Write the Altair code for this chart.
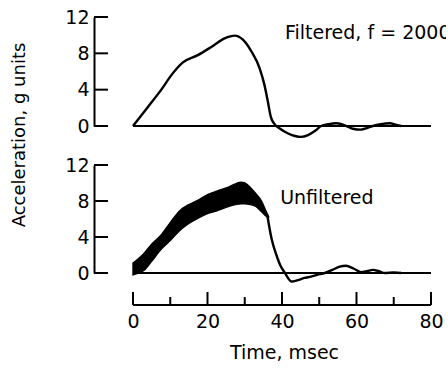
import altair as alt
import pandas as pd

# ---- data ----
t_filt = [0, 4.0, 7.6, 10.3, 13.4, 17.4, 21.0, 24.6, 27.3, 29.5, 31.8, 34.0, 35.3, 36.2, 37.0, 38.0,
          39.5, 41.5, 43.5, 45.1, 47.0, 49.0, 50.5, 52.5, 54.5, 56.0, 57.2, 59.0, 61.2, 63.0, 64.4,
          66.5, 69.0, 70.5, 72.0]
v_filt = [0, 2.1, 4.0, 5.6, 7.0, 7.8, 8.7, 9.65, 9.95, 9.5, 8.2, 6.35, 4.5, 2.7, 1.0, 0.2,
          -0.3, -0.8, -1.1, -1.2, -1.0, -0.5, 0, 0.2, 0.3, 0.2, 0, -0.3, -0.4, -0.2, 0,
          0.2, 0.3, 0.15, 0]

t_band = [0, 1.5, 3, 5, 7.5, 10, 12.5, 15, 17.5, 20, 22.5, 25, 27.5, 29, 30, 31.5, 33, 34.5, 35.8, 36.4]
hi_band = [1.1, 1.6, 2.2, 3.2, 4.2, 5.6, 6.9, 7.6, 8.1, 8.7, 9.1, 9.45, 9.9, 10.1, 10.0, 9.5, 8.8, 8.0, 6.8, 6.3]
lo_band = [-0.2, 0.0, 0.3, 1.3, 2.6, 3.6, 4.7, 5.5, 6.1, 6.6, 6.9, 7.3, 7.6, 7.7, 7.7, 7.6, 7.4, 6.8, 6.3, 6.2]

t_tail = [36.1, 37.2, 38.5, 39.6, 40.8, 41.7, 42.5, 44.2, 46.0, 47.8, 49.5, 51.5, 53.5, 55.5, 57.2,
          59.2, 61.2, 62.8, 64.4, 66.0, 67.6, 70.0, 72.0]
v_tail = [6.3, 3.8, 2.0, 0.8, 0, -0.6, -0.95, -0.8, -0.55, -0.4, -0.2, 0, 0.35, 0.7, 0.8,
          0.5, 0.1, 0.2, 0.35, 0.2, 0, 0.05, 0]

y_ticks = [0, 4, 8, 12]
x_major = [0, 20, 40, 60, 80]
x_minor = [10, 30, 50, 70]
x_end = [0, 80]

label_filtered = "Filtered, f = 2000"
label_unfiltered = "Unfiltered"
pos_filtered = [40.8, 10.2]
pos_unfiltered = [39.5, 8.33]

# ---- styling ----
FONT = "DejaVu Sans"
W = 313
H_TOP = 109
H_BOT = 108
AX_OFF = 39
XAX_OFF = 32

xs = alt.Scale(domain=[0, 84.03], nice=False, zero=False)
ys = alt.Scale(domain=[0, 12], nice=False, zero=False)

Y_AX = alt.Axis(values=y_ticks, offset=AX_OFF, domain=True, domainColor="black", domainWidth=2,
                ticks=False, labelPadding=5, labelFont=FONT, labelFontSize=19, labelColor="black",
                title=None, grid=False)
X_AX = alt.Axis(values=x_major, offset=XAX_OFF, domain=False, ticks=False, labelPadding=7,
                labelFont=FONT, labelFontSize=19, labelColor="black", labelFlush=False,
                labelOverlap=False, grid=False, title="Time, msec", titleFont=FONT,
                titleFontSize=19, titleFontWeight="normal", titleColor="black",
                titlePadding=12, titleX=151, titleAlign="center")

filt = pd.DataFrame({"t": t_filt, "v": v_filt})
band = pd.DataFrame({"t": t_band, "lo": lo_band, "hi": hi_band})
tail = pd.DataFrame({"t": t_tail, "v": v_tail})
yt = pd.DataFrame({"v": y_ticks})
xmaj = pd.DataFrame({"t": x_major})
xmin = pd.DataFrame({"t": x_minor})
lab_f = pd.DataFrame({"t": [pos_filtered[0]], "v": [pos_filtered[1]], "txt": [label_filtered]})
lab_u = pd.DataFrame({"t": [pos_unfiltered[0]], "v": [pos_unfiltered[1]], "txt": [label_unfiltered]})


def panel(xaxis, h, curve_layers, label_df):
    zero = alt.Chart(yt).mark_rule(color="black", strokeWidth=1.8).encode(
        x=alt.X(datum=x_end[0], scale=xs, axis=xaxis),
        x2=alt.X2(datum=x_end[1]),
        y=alt.Y(datum=0, scale=ys, axis=Y_AX),
    )
    yticks = alt.Chart(yt).mark_rule(color="black", strokeWidth=2).encode(
        y=alt.Y("v:Q", scale=ys, axis=Y_AX),
        x=alt.value(-AX_OFF), x2=alt.value(-AX_OFF + 14),
    )
    label = alt.Chart(label_df).mark_text(
        align="left", baseline="middle", font=FONT, fontSize=19, color="black", clip=True
    ).encode(
        x=alt.X("t:Q", scale=xs, axis=xaxis),
        y=alt.Y("v:Q", scale=ys, axis=Y_AX),
        text="txt:N",
    )
    return alt.layer(zero, *curve_layers, yticks, label).properties(width=W, height=h)


top_curve = alt.Chart(filt).mark_line(color="black", strokeWidth=2.4, interpolate="monotone").encode(
    x=alt.X("t:Q", scale=xs, axis=None),
    y=alt.Y("v:Q", scale=ys, axis=Y_AX),
)
top = panel(None, H_TOP, [top_curve], lab_f)

band_area = alt.Chart(band).mark_area(color="black", stroke="black", strokeWidth=1.4,
                                      interpolate="monotone").encode(
    x=alt.X("t:Q", scale=xs, axis=X_AX),
    y=alt.Y("lo:Q", scale=ys, axis=Y_AX),
    y2="hi:Q",
)
tail_line = alt.Chart(tail).mark_line(color="black", strokeWidth=2.4, interpolate="monotone").encode(
    x=alt.X("t:Q", scale=xs, axis=X_AX),
    y=alt.Y("v:Q", scale=ys, axis=Y_AX),
)
x_line = alt.Chart(xmaj).mark_rule(color="black", strokeWidth=2).encode(
    x=alt.X(datum=x_end[0], scale=xs, axis=X_AX),
    x2=alt.X2(datum=x_end[1]),
    y=alt.value(H_BOT + XAX_OFF),
)
x_major_ticks = alt.Chart(xmaj).mark_rule(color="black", strokeWidth=2).encode(
    x=alt.X("t:Q", scale=xs, axis=X_AX),
    y=alt.value(H_BOT + XAX_OFF), y2=alt.value(H_BOT + XAX_OFF - 13),
)
x_minor_ticks = alt.Chart(xmin).mark_rule(color="black", strokeWidth=2).encode(
    x=alt.X("t:Q", scale=xs, axis=X_AX),
    y=alt.value(H_BOT + XAX_OFF), y2=alt.value(H_BOT + XAX_OFF - 8),
)
bot = panel(X_AX, H_BOT, [band_area, tail_line, x_line, x_major_ticks, x_minor_ticks], lab_u)

chart = alt.vconcat(top, bot, spacing=39, bounds="flush").properties(
    title=alt.TitleParams("Acceleration, g units", orient="left", anchor="middle", font=FONT,
                          fontSize=18, fontWeight="normal", color="black", offset=36, dx=50),
    padding={"left": 10, "top": 8, "right": 0, "bottom": 5},
    background="white",
).configure_view(stroke=None)

chart.save("out.html", embed_options={"renderer": "svg", "actions": False})
